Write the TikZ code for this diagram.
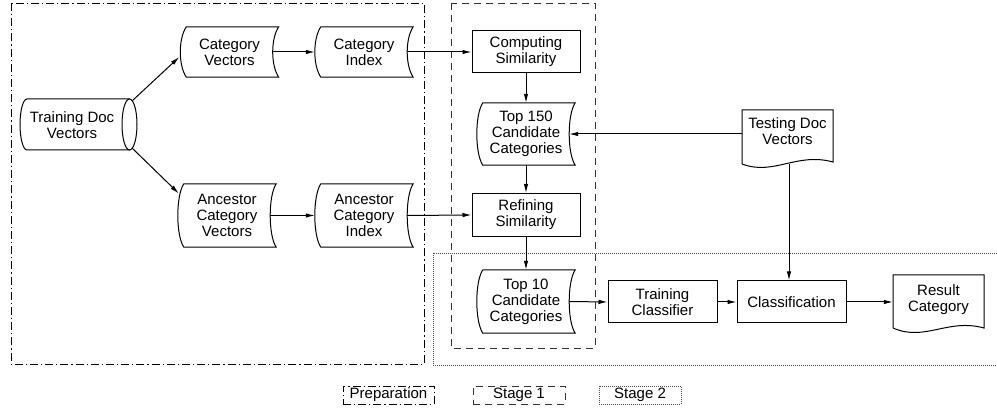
\documentclass[tikz,border=0pt]{standalone}
\usepackage{fontspec}
\setmainfont{Liberation Sans}
\usetikzlibrary{arrows.meta,calc}
\newcommand\sdshape[1]{\draw[ln] let \p1=(#1.north west), \p2=(#1.south east) in
  (\x1+6pt,\y1) -- (\x2,\y1) .. controls (\x2-8pt,\y1-12pt) and (\x2-8pt,\y2+12pt) .. (\x2,\y2)
  -- (\x1+6pt,\y2) .. controls (\x1-2pt,\y2+12pt) and (\x1-2pt,\y1-12pt) .. cycle;}
\begin{document}
\begin{tikzpicture}[x=1pt,y=-1pt,
  every node/.style={font=\fontsize{15}{16}\selectfont, align=center, inner sep=0pt, text=black},
  ln/.style={line width=1pt},
  box/.style={draw, line width=1pt, minimum width=108pt, minimum height=42pt},
  sd/.style={minimum width=98pt, minimum height=#1},
  sd/.default=50pt,
  plain/.style={minimum width=91pt, minimum height=48pt},
  arr/.style={-{Latex[length=9pt,width=4.5pt]}, line width=1pt},
  prepframe/.style={line width=0.8pt, dash pattern=on 8pt off 3pt on 1.2pt off 3pt},
  sonframe/.style={line width=0.9pt, dash pattern=on 7pt off 5pt, draw=black!80},
  stwframe/.style={line width=0.8pt, dash pattern=on 1pt off 1pt, draw=black!70},
]
\useasboundingbox (0,0) rectangle (997,419);

% frames
\draw[prepframe] (11,3) rectangle (424,364);
\draw[sonframe] (451,3) rectangle (595,348);
\draw[stwframe] (997,253) -- (433,253) -- (433,365) -- (997,365);

% training doc vectors (cylinder)
\draw[ln] (129.5,99) -- (27,99) arc[start angle=90,end angle=270,x radius=7pt,y radius=25.5pt] -- (129.5,150);
\draw[ln] (129.5,124.5) ellipse[x radius=7.5pt,y radius=25.5pt];
\node (tdv) at (72,125) {Training Doc\\Vectors};
\coordinate (tdvtop) at (132,101);
\coordinate (tdvbot) at (132,148);

% stored data nodes
\node[sd] (cv) at (229.5,52) {Category\\Vectors};
\node[sd] (ci) at (364,52) {Category\\Index};
\node[sd=63pt] (acv) at (227,215.5) {Ancestor\\Category\\Vectors};
\node[sd=63pt] (aci) at (364,215.5) {Ancestor\\Category\\Index};
\node[sd=62pt] (t150) at (526,134) {Top 150\\Candidate\\Categories};
\node[sd=63pt] (t10) at (526,301.5) {Top 10\\Candidate\\Categories};
\sdshape{cv}
\sdshape{ci}
\sdshape{acv}
\sdshape{aci}
\sdshape{t150}
\sdshape{t10}

% process boxes
\node[box] (cs) at (526,52) {Computing\\Similarity};
\node[box, minimum height=43pt] (rs) at (526,215) {Refining\\Similarity};
\node[box, minimum width=109pt] (tc) at (662.5,302) {Training\\Classifier};
\node[box, minimum width=109pt] (cls) at (791.5,302) {Classification};

% documents
\node[plain] (tdoc) at (787.5,134) {};
\draw[ln] (742,164) -- (742,110) -- (833,110) -- (833,162)
  .. controls (796.6,152) and (773.9,176) .. (742,164);
\node (tdoct) at (787.5,131) {Testing Doc\\Vectors};
\coordinate (tdocb) at (789,164);

\node[plain, minimum height=54pt] (rc) at (938.5,302) {};
\draw[ln] (893,328) -- (893,275) -- (984,275) -- (984,328)
  .. controls (947.6,318) and (924.9,342) .. (893,328);
\node (rct) at (938.5,300) {Result\\Category};

% connectors
\draw[arr] (tdvtop) -- ([xshift=-1pt,yshift=-5pt]cv.west);
\draw[arr] (tdvbot) -- ([xshift=1pt,yshift=22pt]acv.west);
\draw[arr] ([xshift=-6pt]cv.east) -- (ci.west);
\draw[arr] ([xshift=-6pt]acv.east) -- (aci.west);
\draw[arr] ([xshift=-6pt]ci.east) -- (cs.west);
\draw[arr] ([xshift=-6pt]aci.east) -- (rs.west);
\draw[arr] (cs.south) -- (t150.north);
\draw[arr] (t150.south) -- (rs.north);
\draw[arr] (rs.south) -- (t10.north);
\draw[arr] ([xshift=-6pt]t10.east) -- (tc.west);
\draw[arr] (tc.east) -- (cls.west);
\draw[arr] (cls.east) -- (rc.west);
\draw[arr] (tdoc.west) -- ([xshift=-6pt]t150.east);
\draw[arr] (tdocb) -- (tdocb |- cls.north);

% legend
\node[prepframe, draw, minimum width=91pt, minimum height=18pt] (lp) at (388.5,395) {Preparation};
\node[sonframe, minimum width=92pt, minimum height=18pt] (l1) at (519,395) {Stage 1};
\node[stwframe, minimum width=82pt, minimum height=18pt] (l2) at (640,395) {Stage 2};
\end{tikzpicture}
\end{document}
